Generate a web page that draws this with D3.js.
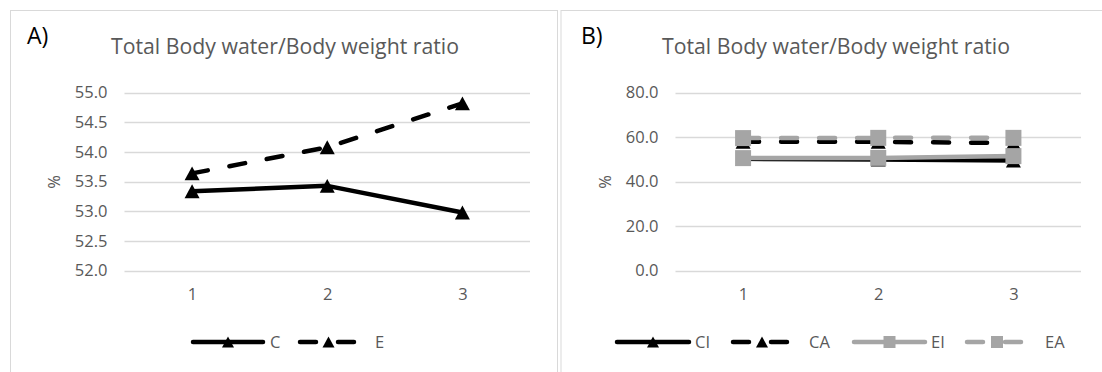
<!DOCTYPE html>
<html>
<head>
<meta charset="utf-8">
<script src="https://cdn.jsdelivr.net/npm/d3@7"></script>
<style>
  body { margin: 0; background: #fff; }
  svg text { font-family: "Open Sans", "Noto Sans", sans-serif; }
</style>
</head>
<body>
<div id="chart"></div>
<script>
// data
var categories = [1, 2, 3];
var ticksA = [52.0, 52.5, 53.0, 53.5, 54.0, 54.5, 55.0];
var ticksB = [0, 20, 40, 60, 80];
var seriesC = [53.34, 53.43, 52.98];
var seriesE = [53.64, 54.08, 54.82];
var seriesCI = [50.3, 50.0, 49.5];
var seriesCA = [58.0, 57.9, 57.4];
var seriesEI = [50.6, 50.7, 51.5];
var seriesEA = [59.6, 59.7, 59.7];
var titleText = 'Total Body water/Body weight ratio';

var W = 1102, H = 372;
var BLACK = '#000', GREY = '#a5a5a5', TXT = '#595959', GRID = '#d9d9d9';

var svg = d3.select('#chart').append('svg')
    .attr('width', W)
    .attr('height', H);

var panels = [
  {ox: 0, frame: [10.5, 557.5], label: 'A)', labelX: 27, ticks: ticksA,
   series: [
     {name: 'C', values: seriesC, color: BLACK, dash: null, marker: 'tri', lx: [193, 263], tx: 270},
     {name: 'E', values: seriesE, color: BLACK, dash: '16,22', marker: 'tri', lx: [300, 357], tx: 375}
   ]},
  {ox: 551, frame: [561, 1200], label: 'B)', labelX: 581, ticks: ticksB,
   series: [
     {name: 'CI', values: seriesCI, color: BLACK, dash: null, marker: 'tri', lx: [617, 689], tx: 695},
     {name: 'CA', values: seriesCA, color: BLACK, dash: '16,22', marker: 'tri', lx: [733, 791], tx: 809},
     {name: 'EI', values: seriesEI, color: GREY, dash: null, marker: 'sq', lx: [854, 925], tx: 931},
     {name: 'EA', values: seriesEA, color: GREY, dash: '16,22', marker: 'sq', lx: [967, 1027], tx: 1045}
   ]}
];

function markerPath(type, s) {
  if (type == 'tri') {
    var h = s * 0.93;
    return 'M0,' + (-h/2) + 'L' + (s/2) + ',' + (h/2) + 'L' + (-s/2) + ',' + (h/2) + 'Z';
  }
  return 'M' + (-s/2) + ',' + (-s/2) + 'h' + s + 'v' + s + 'h' + (-s) + 'Z';
}

panels.forEach(function(p) {
  var g = svg.append('g');

  g.append('rect')
    .attr('x', p.frame[0]).attr('y', 10.5)
    .attr('width', p.frame[1] - p.frame[0]).attr('height', 420)
    .attr('fill', 'none').attr('stroke', GRID).attr('stroke-width', 1);

  var x = d3.scalePoint().domain(categories)
      .range([p.ox + 124.5, p.ox + 530]).padding(0.5);
  var y = d3.scaleLinear().domain(d3.extent(p.ticks)).range([270.7, 92.7]);

  // gridlines
  g.append('g').selectAll('line').data(p.ticks).enter().append('line')
    .attr('x1', p.ox + 124.5).attr('x2', p.ox + 530)
    .attr('y1', function(d) { return Math.round(y(d)) + 0.5; })
    .attr('y2', function(d) { return Math.round(y(d)) + 0.5; })
    .attr('stroke', GRID).attr('stroke-width', 1.3);

  var yAxis = g.append('g')
    .attr('transform', 'translate(' + (p.ox + 124.5) + ',0)')
    .call(d3.axisLeft(y).tickValues(p.ticks).tickSize(0).tickPadding(17)
      .tickFormat(d3.format('.1f')));
  yAxis.select('.domain').remove();
  yAxis.selectAll('text').attr('fill', TXT).style('font-size', '16.5px');

  var xAxis = g.append('g')
    .attr('transform', 'translate(0,' + 288 + ')')
    .call(d3.axisBottom(x).tickSize(0).tickPadding(0));
  xAxis.select('.domain').remove();
  xAxis.selectAll('text').attr('fill', TXT).style('font-size', '16.5px');

  g.append('text')
    .attr('transform', 'translate(' + (p.ox + 60) + ',182) rotate(-90)')
    .attr('text-anchor', 'middle')
    .attr('fill', TXT).style('font-size', '16.5px')
    .text('%');

  g.append('text')
    .attr('x', p.ox + 285).attr('y', 54)
    .attr('text-anchor', 'middle')
    .attr('fill', TXT).style('font-size', '21px')
    .attr('textLength', 348).attr('lengthAdjust', 'spacingAndGlyphs')
    .text(titleText);

  g.append('text')
    .attr('x', p.labelX).attr('y', 44)
    .attr('fill', BLACK).style('font-size', '23px')
    .text(p.label);

  var line = d3.line()
    .x(function(d, i) { return x(categories[i]); })
    .y(function(d) { return y(d); });

  p.series.forEach(function(s) {
    g.append('path')
      .datum(s.values)
      .attr('d', line)
      .attr('fill', 'none')
      .attr('stroke', s.color)
      .attr('stroke-width', 4.5)
      .attr('stroke-linecap', 'round')
      .attr('stroke-linejoin', 'round')
      .attr('stroke-dasharray', s.dash);

    g.append('g').selectAll('path').data(s.values).enter().append('path')
      .attr('transform', function(d, i) { return 'translate(' + x(categories[i]) + ',' + y(d) + ')'; })
      .attr('d', markerPath(s.marker, s.marker == 'tri' ? 15 : 16))
      .attr('fill', s.color);

    // legend
    var ly = 342;
    g.append('line')
      .attr('x1', s.lx[0]).attr('x2', s.lx[1])
      .attr('y1', ly).attr('y2', ly)
      .attr('stroke', s.color).attr('stroke-width', 4.5)
      .attr('stroke-linecap', 'round')
      .attr('stroke-dasharray', s.dash);
    g.append('path')
      .attr('transform', 'translate(' + ((s.lx[0] + s.lx[1]) / 2) + ',' + ly + ')')
      .attr('d', markerPath(s.marker, 12))
      .attr('fill', s.color);
    g.append('text')
      .attr('x', s.tx).attr('y', ly).attr('dy', '0.35em')
      .attr('fill', TXT).style('font-size', '16.5px')
      .text(s.name);
  });
});
</script>
</body>
</html>
